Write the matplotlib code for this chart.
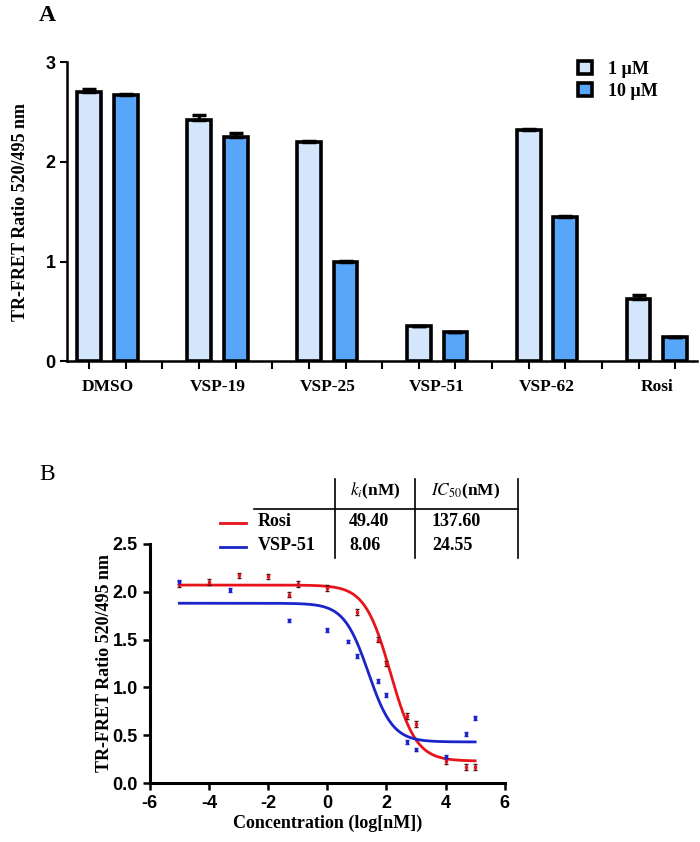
import matplotlib

matplotlib.use('Agg')
import matplotlib.pyplot as plt
import numpy as np
from matplotlib.lines import Line2D

plt.rcParams['font.family'] = ['Liberation Serif', 'DejaVu Serif']
plt.rcParams['mathtext.fontset'] = 'stix'
plt.rcParams['axes.unicode_minus'] = False

# ---- panel A data
compounds = ["DMSO", "VSP-19", "VSP-25", "VSP-51", "VSP-62", "Rosi"]
ratio_1um = [2.70, 2.42, 2.20, 0.35, 2.32, 0.62]
err_1um = [0.03, 0.05, 0.01, 0.005, 0.01, 0.04]
ratio_10um = [2.67, 2.25, 1.00, 0.29, 1.45, 0.24]
err_10um = [0.01, 0.04, 0.01, 0.005, 0.01, 0.0]
dose_labels = ["1 \u00b5M", "10 \u00b5M"]

# ---- panel B data
rosi_logc = [-5, -4, -3, -2, -1.3, -1, 0, 1, 1.7, 2, 2.7, 3, 4, 4.7, 5]
rosi_y = [2.08, 2.10, 2.17, 2.16, 1.97, 2.08, 2.04, 1.79, 1.50, 1.25, 0.70, 0.62, 0.23, 0.17, 0.17]
vsp51_logc = [-5, -3.3, -1.3, 0, 0.7, 1, 1.7, 2, 2.7, 3, 4, 4.7, 5]
vsp51_y = [2.10, 2.02, 1.70, 1.60, 1.48, 1.33, 1.07, 0.92, 0.43, 0.35, 0.27, 0.51, 0.68]
# fitted 4PL parameters: top, bottom, logIC50, hill
rosi_fit = [2.07, 0.23, np.log10(137.60), 1.0]
vsp51_fit = [1.88, 0.43, np.log10(24.55), 1.05]
table_names = ["Rosi", "VSP-51"]
table_ki = ["49.40", "8.06"]
table_ic50 = ["137.60", "24.55"]

light = '#d4e6fb'
dark = '#58a6fa'
red = '#e8141b'
blue = '#1b24c8'

fig = plt.figure(figsize=(7, 8.42), dpi=100)

# ---------------- Panel A
ax = fig.add_axes([0.096, 0.571, 0.900, 0.355])
n = len(compounds)
pos1 = np.arange(n) * 3
pos2 = pos1 + 1
ekw = dict(ecolor='black', elinewidth=2.2, capsize=5, capthick=2.5)
ax.bar(pos1, ratio_1um, width=0.65, color=light, edgecolor='black', linewidth=2.6,
       yerr=[np.zeros(n), err_1um], error_kw=ekw, label=dose_labels[0], zorder=3)
ax.bar(pos2, ratio_10um, width=0.65, color=dark, edgecolor='black', linewidth=2.6,
       yerr=[np.zeros(n), err_10um], error_kw=ekw, label=dose_labels[1], zorder=3)
ax.set_xlim(-0.6, 3 * n - 1.4)
ax.set_ylim(0, 3)
ax.set_yticks([0, 1, 2, 3])
ax.set_xticks(np.arange(3 * n - 1))
ax.set_xticklabels([])
ax.tick_params(axis='x', length=6, width=1.5, direction='out')
ax.tick_params(axis='y', length=5, width=1.5, labelsize=13)
for t in ax.get_yticklabels():
    t.set_family(['Liberation Sans Narrow', 'Liberation Sans'])
    t.set_fontweight('bold')
for i, c in enumerate(compounds):
    ax.text(pos1[i] + 0.5, -0.18, c, ha='center', va='top', fontsize=12.5, fontweight='bold')
for s in ['top', 'right']:
    ax.spines[s].set_visible(False)
for s in ['left', 'bottom']:
    ax.spines[s].set_linewidth(1.8)
ax.set_ylabel("TR-FRET Ratio 520/495 nm", fontsize=13, fontweight='bold', labelpad=12)
ax.legend(loc='upper right', bbox_to_anchor=(0.963, 1.06), frameon=False,
          handlelength=0.75, handleheight=0.75, handletextpad=0.9, labelspacing=0.3,
          prop=dict(weight='bold', size=13))
fig.text(0.067, 0.982, "A", fontsize=17, fontweight='bold', va='center', ha='center')

# ---------------- Panel B
bx = fig.add_axes([0.214, 0.070, 0.507, 0.284])


def four_pl(x, p):
    top, bottom, logic50, hill = p
    return bottom + (top - bottom) / (1 + 10 ** ((x - logic50) * hill))


xs = np.linspace(-5, 5, 400)
bx.plot(xs, four_pl(xs, rosi_fit), color=red, lw=2)
bx.plot(xs, four_pl(xs, vsp51_fit), color=blue, lw=2)
bx.errorbar(rosi_logc, rosi_y, yerr=0.03, fmt='s', ms=2, color=red, ecolor='#5a1010',
            elinewidth=1, capsize=1.5, lw=0)
bx.errorbar(vsp51_logc, vsp51_y, yerr=0.02, fmt='s', ms=2, color=blue, ecolor=blue,
            elinewidth=1, capsize=1.5, lw=0)
bx.set_xlim(-6, 6)
bx.set_ylim(0, 2.5)
bx.set_xticks([-6, -4, -2, 0, 2, 4, 6])
bx.set_yticks([0, 0.5, 1.0, 1.5, 2.0, 2.5])
bx.set_yticklabels(["0.0", "0.5", "1.0", "1.5", "2.0", "2.5"])
bx.tick_params(length=5, width=1.8, labelsize=13)
for t in bx.get_yticklabels() + bx.get_xticklabels():
    t.set_family(['Liberation Sans Narrow', 'Liberation Sans'])
    t.set_fontweight('bold')
for s in ['top', 'right']:
    bx.spines[s].set_visible(False)
for s in ['left', 'bottom']:
    bx.spines[s].set_linewidth(2.2)
bx.set_ylabel("TR-FRET Ratio 520/495 nm", fontsize=13, fontweight='bold', labelpad=0)
bx.set_xlabel("Concentration (log[nM])", fontsize=13, fontweight='bold', labelpad=2)
fig.text(0.067, 0.436, "B", fontsize=17, va='center', ha='center')

# table with legend
W, H = 700, 842


def fx(px):
    return px / W


def fy(py):
    return 1 - py / H


for xv in [335, 415, 518]:
    fig.add_artist(Line2D([fx(xv), fx(xv)], [fy(479), fy(558)], color='black', lw=1.2))
fig.add_artist(Line2D([fx(254), fx(518)], [fy(509), fy(509)], color='black', lw=1.2))
fig.text(fx(375), fy(491), r"$k_i$(nM)", fontsize=12.5, fontweight='bold', ha='center', va='center')
fig.text(fx(466), fy(491), r"$IC_{50}$(nM)", fontsize=12.5, fontweight='bold', ha='center', va='center')
row_y = [521, 545]
colors = [red, blue]
for i in range(len(table_names)):
    fig.add_artist(Line2D([fx(220), fx(246)], [fy(row_y[i] + 2), fy(row_y[i] + 2)], color=colors[i], lw=2))
    fig.text(fx(258), fy(row_y[i]), table_names[i], fontsize=13, fontweight='bold', va='center')
    fig.text(fx(349), fy(row_y[i]), table_ki[i], fontsize=13, fontweight='bold', va='center')
    fig.text(fx(432), fy(row_y[i]), table_ic50[i], fontsize=13, fontweight='bold', va='center')

fig.savefig('out.png', dpi=100)
